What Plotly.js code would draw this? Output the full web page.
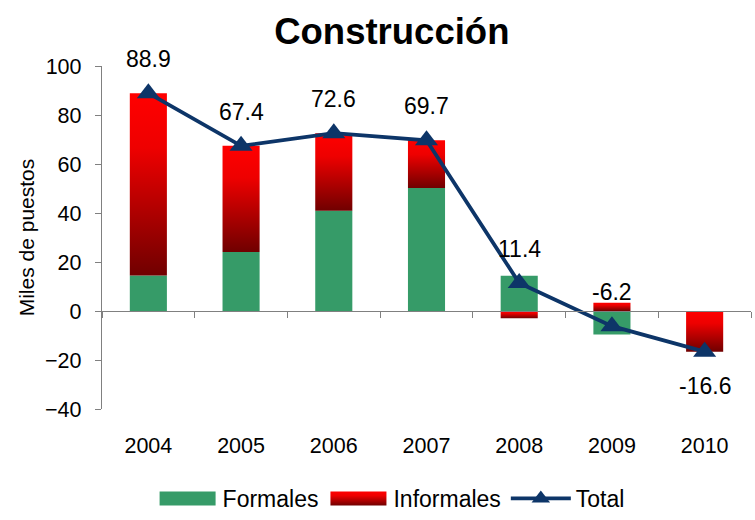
<!DOCTYPE html>
<html>
<head>
<meta charset="utf-8">
<script src="https://cdn.plot.ly/plotly-3.0.1.min.js"></script>
<style>html,body{margin:0;padding:0;background:#fff;}#chart{width:755px;height:520px;}</style>
</head>
<body>
<div id="chart"></div>
<script>
const years = ['2004', '2005', '2006', '2007', '2008', '2009', '2010'];
const formales = [14.5, 24.1, 40.9, 50.2, 14.4, -9.6, 0];
const informales = [74.4, 43.3, 31.7, 19.5, -3.0, 3.4, -16.6];
const total = [88.9, 67.4, 72.6, 69.7, 11.4, -6.2, -16.6];
const labelSide = [1, 1, 1, 1, 1, 1, -1];
const yTicks = [-40, -20, 0, 20, 40, 60, 80, 100];

const FONT = 'Liberation Sans, Arial, sans-serif';
const NAVY = '#0d3568';

const traces = [
  {type: 'bar', name: 'Formales', x: years, y: formales, width: 0.4,
   marker: {color: '#369b68', line: {width: 0}}, xaxis: 'x', yaxis: 'y'},
  {type: 'bar', name: 'Informales', x: years, y: informales, width: 0.4,
   marker: {color: '#d00000', line: {width: 0}}, xaxis: 'x', yaxis: 'y'},
  {type: 'scatter', mode: 'lines+markers', name: 'Total', x: years, y: total,
   line: {color: NAVY, width: 3.8},
   marker: {symbol: 'triangle-up', size: 20, color: NAVY},
   xaxis: 'x2', yaxis: 'y'}
];

// category axes: annotation x given as category index
const annotations = years.map((yr, i) => ({
  x: i, y: total[i], xref: 'x', yref: 'y', text: total[i].toFixed(1),
  showarrow: false, yshift: 34 * labelSide[i],
  font: {family: FONT, size: 23, color: '#000'}
}));

const layout = {
  width: 755, height: 520,
  margin: {l: 102, r: 4, t: 66, b: 111},
  paper_bgcolor: '#fff', plot_bgcolor: '#fff',
  barmode: 'relative', bargap: 0.6,
  showlegend: true,
  font: {family: FONT, size: 20, color: '#000'},
  title: {text: '<b>Construcción</b>', font: {family: FONT, size: 36.5, color: '#000'},
          xref: 'container', x: 0.519, xanchor: 'center', yref: 'container', y: 0.94, yanchor: 'middle'},
  xaxis: {type: 'category', range: [-0.5, 6.5], showline: false, ticks: '', showgrid: false,
          zeroline: false, tickfont: {family: FONT, size: 21.5}, ticklabelstandoff: 21},
  xaxis2: {type: 'category', matches: 'x', overlaying: 'x', anchor: 'free', position: 40 / 140,
           showline: true, linecolor: '#808080', linewidth: 1.2, ticks: 'outside', tickson: 'boundaries',
           ticklen: 6, tickcolor: '#808080', showticklabels: false, showgrid: false, zeroline: false},
  yaxis: {range: [-40, 100], tickvals: yTicks, showgrid: false, zeroline: false,
          showline: true, linecolor: '#808080', linewidth: 1.2, ticks: 'outside', ticklen: 6,
          tickcolor: '#808080', tickfont: {family: FONT, size: 21.5}, ticklabelstandoff: 9,
          title: {text: 'Miles de puestos', font: {family: FONT, size: 21}, standoff: 4}},
  legend: {orientation: 'h', xref: 'container', yref: 'container', x: 0.518, xanchor: 'center',
           y: -0.016, yanchor: 'bottom', font: {family: FONT, size: 23}, itemwidth: 60,
           traceorder: 'normal', itemclick: false},
  annotations: annotations
};

Plotly.newPlot('chart', traces, layout, {displayModeBar: false, staticPlot: true}).then(gd => {
  const svg = gd.querySelector('svg.main-svg');
  const ns = 'http://www.w3.org/2000/svg';
  let defs = svg.querySelector('defs');
  if (!defs) { defs = document.createElementNS(ns, 'defs'); svg.insertBefore(defs, svg.firstChild); }
  const grad = document.createElementNS(ns, 'linearGradient');
  grad.setAttribute('id', 'infGrad');
  grad.setAttribute('x1', '0'); grad.setAttribute('y1', '0');
  grad.setAttribute('x2', '0'); grad.setAttribute('y2', '1');
  [['0', '#ff0000'], ['0.3', '#ee0000'], ['1', '#700000']].forEach(([o, c]) => {
    const s = document.createElementNS(ns, 'stop');
    s.setAttribute('offset', o); s.setAttribute('stop-color', c);
    grad.appendChild(s);
  });
  defs.appendChild(grad);
  const barTraces = gd.querySelectorAll('.barlayer .trace');
  if (barTraces[1]) barTraces[1].querySelectorAll('path').forEach(p => { p.style.fill = 'url(#infGrad)'; });
  const legTraces = gd.querySelectorAll('.legend .traces');
  legTraces.forEach((t, i) => {
    if (i < 2) {
      t.querySelectorAll('.legendpoints path').forEach(p => {
        p.setAttribute('d', 'M28,7H-28V-7H28Z');
        if (i === 1) p.style.fill = 'url(#infGrad)';
      });
    }
  });
});
</script>
</body>
</html>
